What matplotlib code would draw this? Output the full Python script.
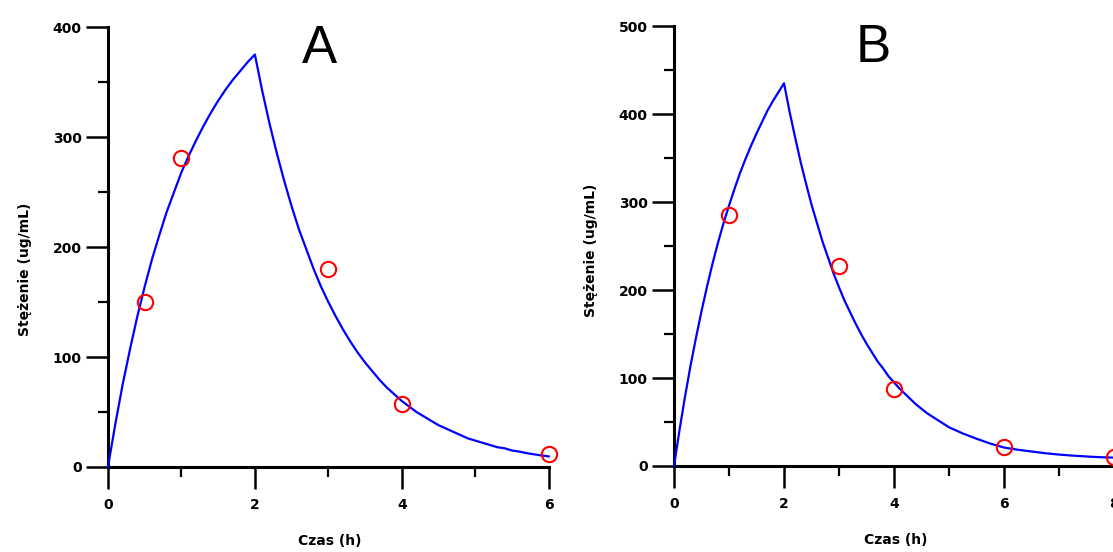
import matplotlib.pyplot as plt
from matplotlib.ticker import MultipleLocator

t_a = [0.0, 0.1, 0.2, 0.3, 0.4, 0.5, 0.6, 0.7, 0.8, 0.9,
       1.0, 1.1, 1.2, 1.3, 1.4, 1.5, 1.6, 1.7, 1.8, 1.9,
       2.0, 2.1, 2.2, 2.3, 2.4, 2.5, 2.6, 2.7, 2.8, 2.9,
       3.0, 3.1, 3.2, 3.3, 3.4, 3.5, 3.6, 3.7, 3.8, 3.9,
       4.0, 4.1, 4.2, 4.3, 4.4, 4.5, 4.6, 4.7, 4.8, 4.9,
       5.0, 5.1, 5.2, 5.3, 5.4, 5.5, 5.6, 5.7, 5.8, 5.9, 6.0]
c_a = [0, 39, 75, 107, 137, 164, 189, 211, 232, 250,
       268, 283, 297, 310, 322, 333, 343, 352, 360, 368,
       375, 342, 312, 285, 260, 237, 216, 198, 180, 164,
       150, 137, 125, 114, 104, 95, 87, 79, 72, 66,
       60, 55, 50, 46, 42, 38, 35, 32, 29, 26,
       24, 22, 20, 18, 17, 15, 14, 12.6, 11.5, 10.5, 9.6]
obs_t_a = [0.5, 1, 3, 4, 6]
obs_c_a = [150, 281, 180, 57, 12]

# model curve B
t_b = [0.0, 0.1, 0.2, 0.3, 0.4, 0.5, 0.6, 0.7, 0.8, 0.9,
       1.0, 1.1, 1.2, 1.3, 1.4, 1.5, 1.6, 1.7, 1.8, 1.9,
       2.0, 2.1, 2.2, 2.3, 2.4, 2.5, 2.6, 2.7, 2.8, 2.9,
       3.0, 3.1, 3.2, 3.3, 3.4, 3.5, 3.6, 3.7, 3.8, 3.9,
       4.0, 4.1, 4.2, 4.3, 4.4, 4.5, 4.6, 4.7, 4.8, 4.9,
       5.0, 5.25, 5.5, 5.75, 6.0, 6.25, 6.5, 6.75, 7.0,
       7.25, 7.5, 7.75, 8.0]
c_b = [0, 41, 79, 114, 146, 176, 204, 230, 254, 276,
       296, 315, 333, 349, 364, 378, 391, 404, 415, 425,
       435, 403, 374, 346, 321, 297, 276, 255, 237, 219,
       203, 188, 175, 162, 150, 139, 129, 119, 111, 102,
       95, 88, 82, 76, 70, 65, 60, 56, 52, 48,
       44, 37, 31, 25.5, 21, 18.5, 16.5, 14.5, 13,
       11.8, 10.8, 10, 9.5]
obs_t_b = [1, 3, 4, 6, 8]
obs_c_b = [285, 227, 87, 22, 10]

fig = plt.figure(figsize=(11.13, 5.52), dpi=100)

panels = [
    ([0.097, 0.154, 0.396, 0.797], t_a, c_a, obs_t_a, obs_c_a, 6, 400, "A", 2.88, 0.45),
    ([0.6056, 0.1558, 0.3953, 0.797], t_b, c_b, obs_t_b, obs_c_b, 8, 500, "B", 3.62, 0.49),
]

for rect, t, c, ot, oc, xmax, ymax, letter, lx, ly in panels:
    ax = fig.add_axes(rect)
    ax.plot(t, c, color="#0000ff", lw=1.6, clip_on=False, zorder=3)
    ax.plot(ot, oc, "o", mfc="none", mec="#ff0000", mew=1.5, ms=11,
            clip_on=False, zorder=4)
    ax.set_xlim(0, xmax)
    ax.set_ylim(0, ymax)
    for s in ["top", "right"]:
        ax.spines[s].set_visible(False)
    for s in ["left", "bottom"]:
        ax.spines[s].set_linewidth(2.2)
    ax.xaxis.set_major_locator(MultipleLocator(2))
    ax.xaxis.set_minor_locator(MultipleLocator(1))
    ax.yaxis.set_major_locator(MultipleLocator(100))
    ax.yaxis.set_minor_locator(MultipleLocator(50))
    ax.tick_params(which="major", length=16, width=1.8, labelsize=10)
    ax.tick_params(which="minor", length=7, width=1.6)
    ax.tick_params(axis="x", which="major", pad=6)
    ax.tick_params(axis="y", which="major", pad=3)
    for lab in ax.get_xticklabels() + ax.get_yticklabels():
        lab.set_fontweight("bold")
    ax.set_xlabel("Czas (h)", fontsize=10, fontweight="bold")
    ax.set_ylabel("Stężenie (ug/mL)", fontsize=10, fontweight="bold")
    ax.xaxis.set_label_coords(0.503, -0.152)
    ax.yaxis.set_label_coords(-0.173, ly)
    ax.text(lx, ymax * 0.95, letter, fontsize=38, family="Liberation Sans",
            ha="center", va="center")

fig.savefig("out.png", dpi=100)
